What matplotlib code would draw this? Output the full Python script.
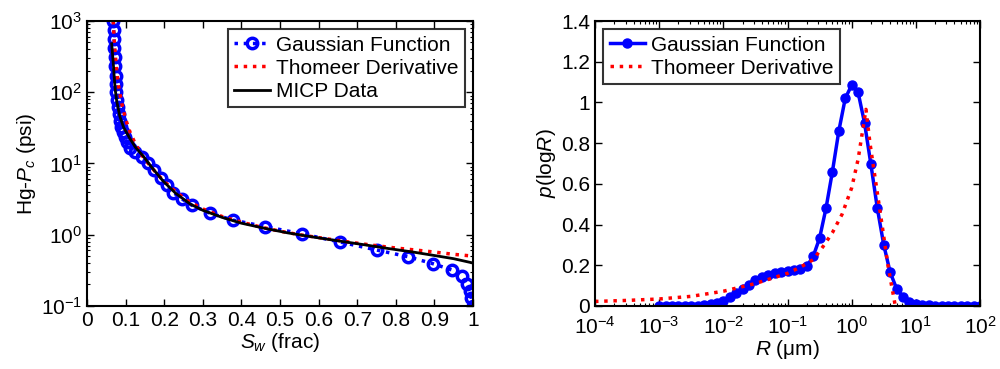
import matplotlib
matplotlib.use("Agg")
import matplotlib.pyplot as plt
import numpy as np
from matplotlib.ticker import FixedLocator, LogLocator, NullFormatter

plt.rcParams['font.family'] = ['Liberation Sans', 'DejaVu Sans']
plt.rcParams['mathtext.fontset'] = 'custom'
plt.rcParams['mathtext.rm'] = 'Liberation Sans'
plt.rcParams['mathtext.it'] = 'Liberation Sans:italic'
plt.rcParams['font.size'] = 15

# ---- left panel: capillary pressure vs saturation
gauss_sw = [0.068, 0.069, 0.070, 0.071, 0.072, 0.073, 0.074, 0.075, 0.076, 0.078,
            0.080, 0.082, 0.085, 0.089, 0.093, 0.098, 0.103, 0.112, 0.124, 0.142,
            0.159, 0.174, 0.192, 0.206, 0.224, 0.245, 0.271, 0.319, 0.379, 0.461,
            0.556, 0.655, 0.750, 0.832, 0.897, 0.945, 0.971, 0.984, 0.991, 0.996, 1.0]
gauss_pc = [1000, 750, 560, 420, 310, 230, 170, 130, 100, 78,
            62, 50, 40, 33, 28, 23.5, 20, 16.5, 14.5, 12.3,
            10, 8.1, 6.3, 5.0, 3.9, 3.2, 2.6, 2.0, 1.6, 1.3,
            1.03, 0.79, 0.61, 0.49, 0.39, 0.32, 0.26, 0.20, 0.16, 0.13, 0.10]

thom_sw = [0.068, 0.070, 0.073, 0.077, 0.082, 0.090, 0.100, 0.112, 0.125, 0.14,
           0.16, 0.18, 0.20, 0.23, 0.26, 0.30, 0.35, 0.40, 0.45, 0.50,
           0.55, 0.60, 0.65, 0.70, 0.75, 0.80, 0.85, 0.90, 0.95, 1.0]
thom_pc = [1000, 600, 350, 200, 120, 70, 42, 27, 19, 13.5,
           9.8, 7.3, 5.6, 4.0, 3.0, 2.3, 1.8, 1.5, 1.28, 1.12,
           1.0, 0.91, 0.83, 0.76, 0.70, 0.65, 0.61, 0.57, 0.53, 0.50]

micp_sw = [0.064, 0.066, 0.068, 0.070, 0.073, 0.077, 0.085, 0.095, 0.11, 0.125,
           0.146, 0.17, 0.198, 0.23, 0.267, 0.30, 0.35, 0.40, 0.46, 0.52,
           0.59, 0.65, 0.72, 0.78, 0.845, 0.90, 0.95, 1.0]
micp_pc = [480, 350, 260, 180, 110, 75, 46, 32, 23, 17,
           12.6, 8.5, 5.6, 3.8, 2.7, 2.2, 1.75, 1.45, 1.23, 1.06,
           0.92, 0.82, 0.72, 0.64, 0.57, 0.51, 0.46, 0.40]

# ---- right panel: pore size distribution
gauss_logr = np.round(np.arange(-3.0, 2.01, 0.1), 2)
gauss_p = [0.0, 0.0, 0.0, 0.0, 0.0, 0.0, 0.001, 0.003, 0.007, 0.013,
           0.025, 0.042, 0.062, 0.085, 0.105, 0.125, 0.14, 0.152, 0.162, 0.168,
           0.172, 0.176, 0.18, 0.195, 0.243, 0.333, 0.48, 0.66, 0.86, 1.02,
           1.085, 1.05, 0.90, 0.695, 0.48, 0.30, 0.165, 0.085, 0.045, 0.02,
           0.01, 0.004, 0.002, 0.001, 0.0, 0.0, 0.0, 0.0, 0.0, 0.0, 0.0]

thom_logr = [-4, -3.5, -3, -2.5, -2, -1.5, -1.2, -1.0, -0.8, -0.6,
             -0.45, -0.3, -0.15, 0.0, 0.1, 0.18, 0.223, 0.285, 0.44, 0.57, 0.68]
thom_p = [0.022, 0.027, 0.034, 0.047, 0.072, 0.11, 0.14, 0.16, 0.19, 0.227,
          0.29, 0.36, 0.45, 0.58, 0.72, 0.88, 0.966, 0.80, 0.47, 0.19, 0.0]

fig = plt.figure(figsize=(10, 3.69), dpi=100)
ax1 = fig.add_axes([0.087, 0.171, 0.386, 0.772])
ax2 = fig.add_axes([0.595, 0.171, 0.385, 0.772])

ax1.plot(gauss_sw, gauss_pc, ':', color='blue', lw=2.5, marker='o', ms=7.5,
         mfc='none', mew=2.5, label='Gaussian Function')
ax1.plot(thom_sw, thom_pc, ':', color='red', lw=2.5, label='Thomeer Derivative')
ax1.plot(micp_sw, micp_pc, '-', color='black', lw=2, label='MICP Data')
ax1.set_yscale('log')
ax1.set_xlim(0, 1)
ax1.set_ylim(0.1, 1000)
ax1.xaxis.set_major_locator(FixedLocator(np.round(np.arange(0, 1.01, 0.1), 1)))
ax1.set_xticklabels(['0', '0.1', '0.2', '0.3', '0.4', '0.5', '0.6', '0.7', '0.8', '0.9', '1'])
ax1.yaxis.set_major_locator(LogLocator(base=10, numticks=10))
ax1.yaxis.set_minor_locator(LogLocator(base=10, subs=np.arange(2, 10), numticks=10))
ax1.yaxis.set_minor_formatter(NullFormatter())
ax1.set_xlabel('$S_w$ (frac)', labelpad=1)
ax1.set_ylabel('Hg-$P_c$ (psi)', labelpad=2)
leg1 = ax1.legend(loc='upper right', fancybox=False, edgecolor='black',
                  handlelength=1.7, borderpad=0.3, labelspacing=0.2,
                  handletextpad=0.3, borderaxespad=0.4)
leg1.get_frame().set_linewidth(1.5)

ax2.plot(10.0 ** gauss_logr, gauss_p, '-', color='blue', lw=2.5, marker='o',
         ms=6.5, label='Gaussian Function')
ax2.plot(10.0 ** np.array(thom_logr), thom_p, ':', color='red', lw=2.5,
         label='Thomeer Derivative')
ax2.set_xscale('log')
ax2.set_xlim(1e-4, 1e2)
ax2.set_ylim(0, 1.4)
ax2.xaxis.set_major_locator(LogLocator(base=10, numticks=10))
ax2.xaxis.set_minor_locator(LogLocator(base=10, subs=np.arange(2, 10), numticks=10))
ax2.xaxis.set_minor_formatter(NullFormatter())
ax2.yaxis.set_major_locator(FixedLocator(np.round(np.arange(0, 1.41, 0.2), 1)))
ax2.set_yticklabels(['0', '0.2', '0.4', '0.6', '0.8', '1', '1.2', '1.4'])
ax2.set_xlabel('$R$ (\u03bcm)', labelpad=0)
ax2.set_ylabel('$p$(log$R$)', labelpad=2)
leg2 = ax2.legend(loc='upper left', fancybox=False, edgecolor='black',
                  handlelength=1.7, borderpad=0.3, labelspacing=0.2,
                  handletextpad=0.3, borderaxespad=0.4)
leg2.get_frame().set_linewidth(1.5)

for ax in (ax1, ax2):
    ax.tick_params(which='both', direction='in', top=True, right=True)
    ax.tick_params(which='major', length=5, width=1)
    ax.tick_params(which='minor', length=2.5, width=0.8)
    for s in ax.spines.values():
        s.set_linewidth(1.5)
ax2.tick_params(axis='x', which='major', pad=7)

fig.savefig('out.png', dpi=100)
